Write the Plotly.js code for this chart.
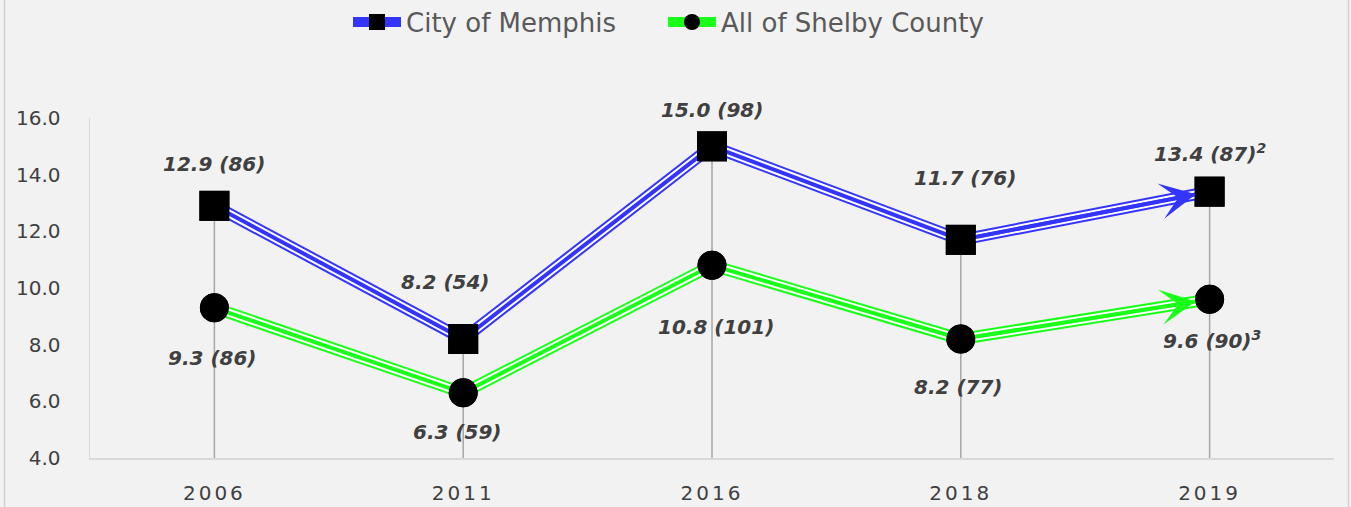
<!DOCTYPE html>
<html>
<head>
<meta charset="utf-8">
<script src="https://cdn.plot.ly/plotly-3.0.1.min.js"></script>
<style>
html,body{margin:0;padding:0;background:#f2f2f2;}
#chart{width:1351px;height:507px;}
#chart .xtick text{letter-spacing:3px;}
</style>
</head>
<body>
<div id="chart"></div>
<script>
// ---- data ----
var years = ["2006", "2011", "2016", "2018", "2019"];
var memphisName = "City of Memphis";
var shelbyName = "All of Shelby County";
var memphisRate = [12.9, 8.2, 15.0, 11.7, 13.4];
var memphisCount = [86, 54, 98, 76, 87];
var memphisNote = ["", "", "", "", "2"];
var shelbyRate = [9.3, 6.3, 10.8, 8.2, 9.6];
var shelbyCount = [86, 59, 101, 77, 90];
var shelbyNote = ["", "", "", "", "3"];
var yTickVals = [4, 6, 8, 10, 12, 14, 16];

// ---- style ----
var BLUE = "#3434ff", GREEN = "#1aff1a", BG = "#f2f2f2";
var FONT = "DejaVu Sans";
var memphisLabelShift = [{x: 0, y: 42}, {x: -18, y: 57}, {x: 0, y: 36}, {x: 4, y: 62}, {x: 0, y: 39}];
var shelbyLabelShift = [{x: -2, y: -50}, {x: -6, y: -39}, {x: 4, y: -62}, {x: -2, y: -48}, {x: 2, y: -41}];

function fmtLabel(v, n, note) {
  return v.toFixed(1) + " (" + n + ")" + (note ? "<sup>" + note + "</sup>" : "");
}

function seriesTraces(name, ys, color, symbol, size, legendId) {
  return [
    {x: years, y: ys, name: name, mode: "lines+markers", type: "scatter", legend: legendId,
     line: {color: color, width: 12}, marker: {symbol: symbol, size: size, color: "#000"},
     hoverinfo: "skip", legendgroup: name},
    {x: years, y: ys, mode: "lines", type: "scatter", showlegend: false,
     line: {color: "#ffffff", width: 8}, hoverinfo: "skip", legendgroup: name},
    {x: years, y: ys, mode: "lines", type: "scatter", showlegend: false,
     line: {color: color, width: 4}, hoverinfo: "skip", legendgroup: name}
  ];
}

var traces = [].concat(
  seriesTraces(memphisName, memphisRate, BLUE, "square", 30, "legend"),
  seriesTraces(shelbyName, shelbyRate, GREEN, "circle", 29, "legend2"),
  [
    {x: years, y: memphisRate, mode: "markers", type: "scatter", showlegend: false,
     marker: {symbol: "square", size: 30, color: "#000"}, hoverinfo: "skip"},
    {x: years, y: shelbyRate, mode: "markers", type: "scatter", showlegend: false,
     marker: {symbol: "circle", size: 29, color: "#000"}, hoverinfo: "skip"}
  ]
);

var annotations = [];
years.forEach(function (yr, i) {
  annotations.push({x: i, y: memphisRate[i], xref: "x", yref: "y", showarrow: false,
    text: "<b><i>" + fmtLabel(memphisRate[i], memphisCount[i], memphisNote[i]) + "</i></b>",
    xshift: memphisLabelShift[i].x, yshift: memphisLabelShift[i].y,
    font: {family: FONT, size: 20, color: "#404040"}});
  annotations.push({x: i, y: shelbyRate[i], xref: "x", yref: "y", showarrow: false,
    text: "<b><i>" + fmtLabel(shelbyRate[i], shelbyCount[i], shelbyNote[i]) + "</i></b>",
    xshift: shelbyLabelShift[i].x, yshift: shelbyLabelShift[i].y,
    font: {family: FONT, size: 20, color: "#404040"}});
});
// arrow heads on the last segment
var last = years.length - 1;
[[memphisRate, BLUE], [shelbyRate, GREEN]].forEach(function (s) {
  annotations.push({x: last, y: s[0][last], ax: last - 1, ay: s[0][last - 1],
    xref: "x", yref: "y", axref: "x", ayref: "y", text: "", showarrow: true,
    arrowhead: 3, arrowsize: 1.7, arrowwidth: 3.5, arrowcolor: s[1],
    standoff: 14, startstandoff: 16});
});

// drop lines
var shapes = years.map(function (yr, i) {
  return {type: "line", xref: "x", yref: "y", layer: "below",
    x0: i, x1: i, y0: yTickVals[0], y1: Math.max(memphisRate[i], shelbyRate[i]),
    line: {color: "#a6a6a6", width: 1.5}};
});
// chart border sides
shapes.push({type: "line", xref: "paper", yref: "paper", x0: -85.5 / 1244, x1: -85.5 / 1244,
  y0: -49 / 340, y1: 458 / 340, line: {color: "#d0d0d0", width: 1.5}});
shapes.push({type: "line", xref: "paper", yref: "paper", x0: 1258.5 / 1244, x1: 1258.5 / 1244,
  y0: -49 / 340, y1: 458 / 340, line: {color: "#d0d0d0", width: 1.5}});

function legendCfg(x) {
  return {orientation: "h", x: x, xanchor: "left", y: 1.282, yanchor: "middle",
    font: {family: FONT, size: 26, color: "#595959"}, itemwidth: 48,
    bgcolor: "rgba(0,0,0,0)"};
}

var layout = {
  width: 1351, height: 507,
  margin: {l: 90, r: 17, t: 118, b: 49, autoexpand: false},
  paper_bgcolor: BG, plot_bgcolor: BG,
  showlegend: true,
  legend: legendCfg(0.2074),
  legend2: legendCfg(0.4606),
  xaxis: {type: "category", range: [-0.5, 4.5], showgrid: false, zeroline: false,
    showline: true, linecolor: "#d9d9d9", linewidth: 2, ticks: "",
    tickfont: {family: FONT, size: 20, color: "#404040"}, ticklabelstandoff: 16,
    fixedrange: true},
  yaxis: {range: [4, 16], tickvals: yTickVals, tickformat: ".1f", showgrid: false,
    zeroline: false, showline: true, linecolor: "#d9d9d9", linewidth: 1.5, ticks: "",
    tickfont: {family: FONT, size: 20, color: "#404040"}, ticklabelstandoff: 24,
    fixedrange: true},
  annotations: annotations,
  shapes: shapes,
  hovermode: false
};

Plotly.newPlot("chart", traces, layout, {displayModeBar: false, staticPlot: true});
</script>
</body>
</html>
